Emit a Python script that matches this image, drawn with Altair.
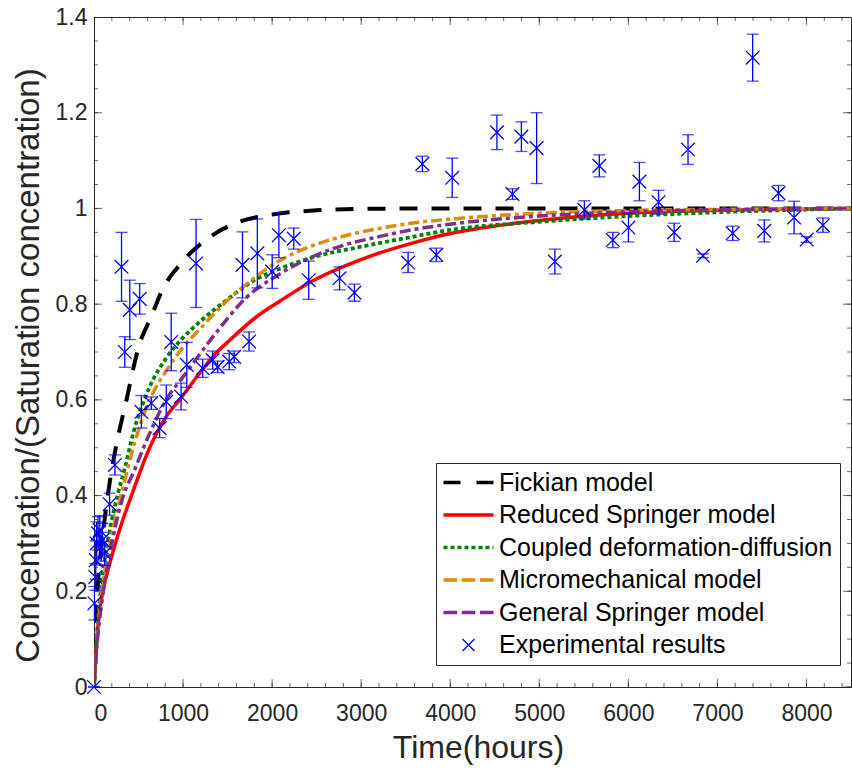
import altair as alt
import pandas as pd

# ---------------- data ----------------
exp_t = [0, 5, 15, 20, 30, 45, 65, 80, 95, 120, 175, 235,
         309, 346, 402, 513, 532, 643, 737, 811, 867, 978, 1042, 1146,
         1220, 1332, 1388, 1518, 1574, 1667, 1741, 1834, 2001, 2076, 2243,
         2411, 2757, 2924, 3527, 3687, 3843, 4022, 4524, 4699, 4799, 4970,
         5175, 5506, 5674, 5826, 6001, 6124, 6339, 6514, 6670, 6838, 7172,
         7396, 7526, 7686, 7861, 8002, 8185]
exp_c = [0.0, 0.175, 0.23, 0.265, 0.30, 0.321, 0.328, 0.293, 0.307, 0.279, 0.382, 0.464,
         0.878, 0.70, 0.788, 0.811, 0.575, 0.593, 0.541, 0.596, 0.721, 0.607, 0.673, 0.885,
         0.666, 0.683, 0.669, 0.68, 0.69, 0.882, 0.722, 0.906, 0.868, 0.944, 0.937,
         0.850, 0.854, 0.824, 0.887, 1.093, 0.903, 1.064, 1.159, 1.030, 1.150, 1.126,
         0.889, 0.997, 1.089, 0.934, 0.960, 1.056, 1.013, 0.950, 1.123, 0.901, 0.948,
         1.315, 0.953, 1.032, 0.981, 0.935, 0.965]
exp_err = [0.0, 0.035, 0.028, 0.04, 0.045, 0.035, 0.03, 0.03, 0.035, 0.025, 0.023, 0.021,
           0.072, 0.032, 0.062, 0.032, 0.034, 0.013, 0.02, 0.035, 0.06, 0.028, 0.047, 0.092,
           0.019, 0.019, 0.012, 0.017, 0.012, 0.069, 0.02, 0.072, 0.035, 0.047, 0.022,
           0.04, 0.024, 0.018, 0.021, 0.016, 0.014, 0.041, 0.036, 0.011, 0.031, 0.074,
           0.026, 0.019, 0.023, 0.016, 0.030, 0.040, 0.025, 0.019, 0.031, 0.004, 0.015,
           0.049, 0.023, 0.016, 0.034, 0.006, 0.015]

fick_t = [0, 25, 50, 100, 180, 250, 365, 500, 650, 750, 1000, 1300, 1600, 2000, 2500, 3000, 4000, 8500]
fick_c = [0, 0.16, 0.23, 0.32, 0.432, 0.505, 0.60, 0.71, 0.777, 0.823, 0.89, 0.94, 0.97, 0.987, 0.996, 0.999, 1.0, 1.0]

red_t = [0, 50, 100, 180, 290, 440, 625, 811, 960, 1183, 1332, 1555, 1800, 2076, 2448, 2820, 3192, 3564, 3936, 5000, 6000, 7000, 8500]
red_c = [0, 0.14, 0.20, 0.26, 0.33, 0.41, 0.50, 0.565, 0.60, 0.655, 0.69, 0.73, 0.77, 0.805, 0.848, 0.88, 0.906, 0.927, 0.945, 0.975, 0.99, 0.996, 1.0]

green_t = [0, 30, 90, 160, 270, 350, 440, 625, 810, 1000, 1200, 1500, 1800, 2100, 2500, 3000, 3500, 4000, 5000, 6000, 7000, 8500]
green_c = [0, 0.10, 0.225, 0.31, 0.405, 0.46, 0.53, 0.627, 0.687, 0.73, 0.765, 0.81, 0.85, 0.875, 0.90, 0.92, 0.938, 0.955, 0.972, 0.984, 0.992, 1.0]

orange_t = [0, 30, 90, 160, 330, 440, 625, 810, 1000, 1200, 1400, 1700, 2076, 2450, 2820, 3200, 3560, 4085, 5000, 6000, 7000, 8500]
orange_c = [0, 0.09, 0.20, 0.28, 0.42, 0.50, 0.60, 0.66, 0.71, 0.75, 0.79, 0.84, 0.89, 0.922, 0.943, 0.958, 0.969, 0.979, 0.99, 0.996, 0.998, 1.0]

purple_t = [0, 30, 90, 160, 327, 440, 625, 810, 1000, 1350, 1700, 2076, 2450, 2820, 3200, 3560, 4085, 5000, 6000, 7000, 8500]
purple_c = [0, 0.08, 0.18, 0.26, 0.398, 0.447, 0.53, 0.60, 0.648, 0.735, 0.812, 0.862, 0.899, 0.924, 0.941, 0.955, 0.969, 0.984, 0.993, 0.997, 1.0]

names = ["Fickian model", "Reduced Springer model", "Coupled deformation-diffusion",
         "Micromechanical model", "General Springer model", "Experimental results"]
colors = ["#000000", "#FF0000", "#008000", "#E08A0A", "#7E2F8E", "#0000FF"]

x_major = [0, 1000, 2000, 3000, 4000, 5000, 6000, 7000, 8000]
x_minor = [v * 200 for v in range(43)]
y_major = [0, 0.2, 0.4, 0.6, 0.8, 1.0, 1.2, 1.4]
y_minor = [round(v * 0.05, 2) for v in range(29)]
x_edges = [0, 8500]
y_edges = [0, 1.4]

# ---------------- styling ----------------
W, H = 757, 670
FONT = "Liberation Sans"
AX = "#262626"

# legend symbols drawn as paths (scale: 1 unit = 5 px at symbolSize 100)
legend_paths = [
    "M-5,0L-1.6,0M1.6,0L5,0",
    "M-5,0L5,0",
    "M-5,0L-4.2,0M-3.6,0L-2.8,0M-2.2,0L-1.4,0M-0.8,0L0,0M0.6,0L1.4,0M2.0,0L2.8,0M3.4,0L4.2,0M4.8,0L5,0",
    "M-5,0L-2.3,0M-1.35,0L1.35,0M2.3,0L5,0",
    "M-5,0L-2.3,0M-1.35,0L1.35,0M2.3,0L5,0",
    "M-1.2,-1.2L1.2,1.2M-1.2,1.2L1.2,-1.2",
]
widths = [3.5, 3.5, 3.5, 3.5, 3.5, 1.3]

xs = alt.Scale(domain=[0, 8500], nice=False, zero=False)
ys = alt.Scale(domain=[0, 1.4], nice=False, zero=False)

exp_df = pd.DataFrame({
    "t": exp_t, "c": exp_c,
    "lo": [c - e for c, e in zip(exp_c, exp_err)],
    "hi": [c + e for c, e in zip(exp_c, exp_err)],
    "series": "Experimental results",
})


def curve(t, c, color, width, dash=None):
    df = pd.DataFrame({"t": t, "c": c})
    kw = dict(color=color, strokeWidth=width, interpolate="monotone", clip=True)
    if dash:
        kw["strokeDash"] = dash
    return alt.Chart(df).mark_line(**kw).encode(
        x=alt.X("t:Q", scale=xs, axis=None),
        y=alt.Y("c:Q", scale=ys, axis=None),
    )


# axis carrying labels and titles
label_layer = alt.Chart(exp_df).mark_point(opacity=0).encode(
    x=alt.X("t:Q", scale=xs, axis=alt.Axis(
        orient="bottom", values=x_major, format="d", ticks=False, domain=False, grid=False,
        labelFont=FONT, labelFontSize=23, labelColor=AX, labelPadding=15,
        title="Time(hours)", titleFont=FONT, titleFontSize=32, titleFontWeight="normal",
        titleColor=AX, titlePadding=7, titleX=384)),
    y=alt.Y("c:Q", scale=ys, axis=alt.Axis(
        orient="left", values=y_major, format="~g", ticks=False, domain=False, grid=False,
        labelFont=FONT, labelFontSize=23, labelColor=AX, labelPadding=7,
        title="Concentration/(Saturation concentration)", titleFont=FONT, titleFontSize=33,
        titleFontWeight="normal", titleColor=AX, titlePadding=10, titleY=348)),
)


# inward ticks: ticks centred on the frame and clipped to the plot area
def xticks(vals, size):
    df = pd.DataFrame({"t": [v for v in vals for _ in y_edges],
                       "c": [e for _ in vals for e in y_edges]})
    return alt.Chart(df).mark_tick(orient="vertical", size=size, thickness=1, color=AX, clip=True).encode(
        x=alt.X("t:Q", scale=xs, axis=None),
        y=alt.Y("c:Q", scale=ys, axis=None),
    )


def yticks(vals, size):
    df = pd.DataFrame({"t": [e for _ in vals for e in x_edges],
                       "c": [v for v in vals for _ in x_edges]})
    return alt.Chart(df).mark_tick(orient="horizontal", size=size, thickness=1, color=AX, clip=True).encode(
        x=alt.X("t:Q", scale=xs, axis=None),
        y=alt.Y("c:Q", scale=ys, axis=None),
    )


tick_layers = [xticks(x_major, 16), xticks(x_minor, 8), yticks(y_major, 16), yticks(y_minor, 8)]

fick = curve(fick_t, fick_c, colors[0], 4, [18, 14])
red = curve(red_t, red_c, colors[1], 3.5)
green = curve(green_t, green_c, colors[2], 3.8, [4, 3])
orange = curve(orange_t, orange_c, colors[3], 3.5, [11, 4, 4, 4])
purple = curve(purple_t, purple_c, colors[4], 3.5, [11, 4, 4, 4])

BLUE = "#0000FF"
rules = alt.Chart(exp_df).mark_rule(color=BLUE, strokeWidth=1.3).encode(
    x=alt.X("t:Q", scale=xs, axis=None),
    y=alt.Y("lo:Q", scale=ys, axis=None),
    y2="hi:Q",
)
cap_hi = alt.Chart(exp_df).mark_tick(color=BLUE, orient="horizontal", size=12, thickness=1.3).encode(
    x=alt.X("t:Q", scale=xs, axis=None),
    y=alt.Y("hi:Q", scale=ys, axis=None),
)
cap_lo = alt.Chart(exp_df).mark_tick(color=BLUE, orient="horizontal", size=12, thickness=1.3).encode(
    x=alt.X("t:Q", scale=xs, axis=None),
    y=alt.Y("lo:Q", scale=ys, axis=None),
)

leg = dict(
    title=None, orient="none", legendX=342, legendY=446, padding=7, rowPadding=6.5,
    labelFont=FONT, labelFontSize=25, labelColor="#000000", labelLimit=500,
    strokeColor=AX, fillColor="white", symbolSize=100, symbolOffset=13, labelOffset=18,
)
points = alt.Chart(exp_df).mark_point(filled=False, size=130, opacity=1).encode(
    x=alt.X("t:Q", scale=xs, axis=None),
    y=alt.Y("c:Q", scale=ys, axis=None),
    color=alt.Color("series:N", scale=alt.Scale(domain=names, range=colors), legend=alt.Legend(**leg)),
    shape=alt.Shape("series:N", scale=alt.Scale(domain=names, range=legend_paths), legend=alt.Legend(**leg)),
    strokeWidth=alt.StrokeWidth("series:N", scale=alt.Scale(type="ordinal", domain=names, range=widths),
                                legend=alt.Legend(**leg)),
)

chart = alt.layer(
    label_layer, *tick_layers,
    fick, red, green, orange, purple,
    rules, cap_hi, cap_lo, points,
).resolve_axis(x="independent", y="independent").properties(
    width=W, height=H,
    autosize=alt.AutoSizeParams(type="none"),
    padding={"left": 94, "top": 17, "right": 1, "bottom": 86},
    background="white",
).configure_view(stroke=AX, strokeWidth=1)

chart.save("out.html", embed_options={"renderer": "svg", "actions": False})
